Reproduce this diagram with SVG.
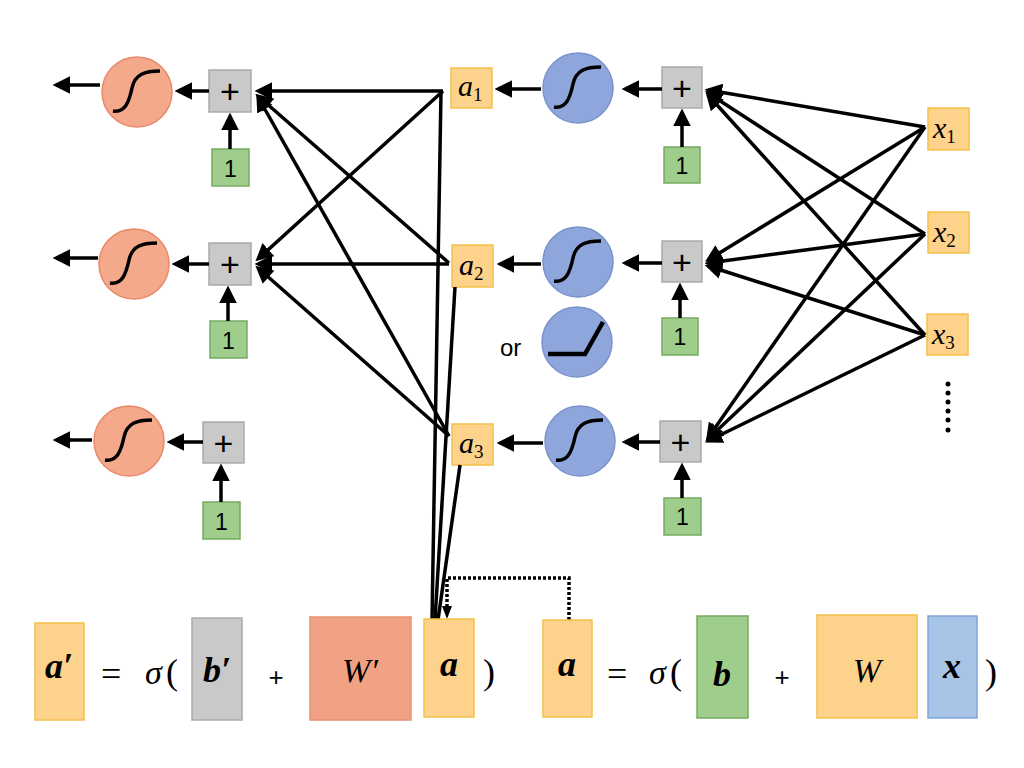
<svg xmlns="http://www.w3.org/2000/svg" xmlns:xlink="http://www.w3.org/1999/xlink" width="1024" height="768" viewBox="0 0 1024 768">
<style>
.red{fill:#f4a98b;stroke:#e8896a;stroke-width:1.5}
.blue{fill:#8fa6dc;stroke:#7a93cc;stroke-width:1.5}
.gray{fill:#c9c9c9;stroke:#aaa;stroke-width:1.5}
.green{fill:#9fce8c;stroke:#76ab62;stroke-width:1.5}
.org{fill:#fdd28a;stroke:#f5c04a;stroke-width:1.5}
.bl{fill:#a7c3e6;stroke:#7fa6d6;stroke-width:1.5}
.rd{fill:#f2a284;stroke:#e59373;stroke-width:1.5}
.ln{stroke:#000;stroke-width:3.5;fill:none}
.ar{stroke:#000;stroke-width:3.5;fill:none;marker-end:url(#ah)}
.t{font-family:"Liberation Sans",sans-serif;fill:#000}
.m{font-family:"Liberation Serif",serif;font-style:italic;fill:#000}
.u{font-family:"Liberation Serif",serif;font-style:normal;fill:#000}
.mb{font-family:"Liberation Serif",serif;font-style:italic;font-weight:bold;fill:#000}
</style>
<defs>
<marker id="ah" markerWidth="5" markerHeight="5" refX="4" refY="2.5" orient="auto" markerUnits="strokeWidth"><path d="M0,0 L5,2.5 L0,5 z" fill="#000"/></marker>
<path id="sig" d="M-24,19 C-12,21 -8,10 -5,-4 C-2,-18 8,-21 23,-21" fill="none" stroke="#000" stroke-width="3.5"/>
</defs>
<g id="out-red">
<circle class="red" cx="137" cy="92" r="35"/><use xlink:href="#sig" x="137" y="92"/>
<circle class="red" cx="134" cy="264" r="35"/><use xlink:href="#sig" x="134" y="264"/>
<circle class="red" cx="129" cy="441" r="35"/><use xlink:href="#sig" x="129" y="441"/>
</g>
<g id="plus-left">
<rect class="gray" x="209" y="70" width="42" height="42"/><text class="t" x="230" y="103" font-size="34" text-anchor="middle">+</text>
<rect class="gray" x="209" y="243" width="42" height="42"/><text class="t" x="230" y="276" font-size="34" text-anchor="middle">+</text>
<rect class="gray" x="203" y="422" width="41" height="41"/><text class="t" x="223.5" y="455" font-size="34" text-anchor="middle">+</text>
<rect class="green" x="212" y="149" width="37" height="37"/><text class="t" x="230.5" y="177" font-size="23" text-anchor="middle">1</text>
<rect class="green" x="210" y="321" width="37" height="37"/><text class="t" x="228.5" y="349" font-size="23" text-anchor="middle">1</text>
<rect class="green" x="203" y="502" width="37" height="37"/><text class="t" x="221.5" y="530" font-size="23" text-anchor="middle">1</text>
</g>
<g id="a-nodes">
<rect class="org" x="451" y="68" width="41" height="40"/><text class="m" x="458" y="96" font-size="30">a<tspan class="u" font-size="19" dy="5">1</tspan></text>
<rect class="org" x="452" y="245" width="41" height="42"/><text class="m" x="459" y="275" font-size="30">a<tspan class="u" font-size="19" dy="5">2</tspan></text>
<rect class="org" x="452" y="424" width="41" height="41"/><text class="m" x="459" y="453" font-size="30">a<tspan class="u" font-size="19" dy="5">3</tspan></text>
</g>
<g id="hidden-blue">
<circle class="blue" cx="578" cy="88" r="35"/><use xlink:href="#sig" x="578" y="88"/>
<circle class="blue" cx="578" cy="262" r="35"/><use xlink:href="#sig" x="578" y="262"/>
<circle class="blue" cx="577" cy="342" r="35"/><path d="M548,354 L585,354 L603,322" fill="none" stroke="#000" stroke-width="4.5"/>
<text class="t" x="500" y="356" font-size="24">or</text>
<circle class="blue" cx="580" cy="441" r="35"/><use xlink:href="#sig" x="580" y="441"/>
</g>
<g id="plus-right">
<rect class="gray" x="662" y="67" width="40" height="41"/><text class="t" x="682" y="100" font-size="34" text-anchor="middle">+</text>
<rect class="gray" x="662" y="241" width="40" height="41"/><text class="t" x="682" y="274" font-size="34" text-anchor="middle">+</text>
<rect class="gray" x="660" y="421" width="41" height="41"/><text class="t" x="680.5" y="454" font-size="34" text-anchor="middle">+</text>
<rect class="green" x="664" y="147" width="36" height="36"/><text class="t" x="682" y="174" font-size="23" text-anchor="middle">1</text>
<rect class="green" x="662" y="318" width="36" height="37"/><text class="t" x="680" y="345" font-size="23" text-anchor="middle">1</text>
<rect class="green" x="664" y="498" width="37" height="37"/><text class="t" x="682.5" y="525" font-size="23" text-anchor="middle">1</text>
</g>
<g id="x-nodes">
<rect class="org" x="928" y="108" width="41" height="42"/><text class="m" x="933" y="138" font-size="30">x<tspan class="u" font-size="19" dy="5">1</tspan></text>
<rect class="org" x="928" y="212" width="41" height="41"/><text class="m" x="933" y="242" font-size="30">x<tspan class="u" font-size="19" dy="5">2</tspan></text>
<rect class="org" x="927" y="314" width="41" height="41"/><text class="m" x="932" y="344" font-size="30">x<tspan class="u" font-size="19" dy="5">3</tspan></text>
<g fill="#000"><circle cx="948" cy="384" r="2.5"/><circle cx="948" cy="393" r="2.5"/><circle cx="948" cy="402" r="2.5"/><circle cx="948" cy="411" r="2.5"/><circle cx="948" cy="420" r="2.5"/><circle cx="948" cy="430" r="2.5"/></g>
</g>
<g id="connectors">
<path class="ar" d="M100,85 H56"/><path class="ar" d="M98,258 H56"/><path class="ar" d="M92,440 H56"/>
<path class="ar" d="M209,91 H178"/><path class="ar" d="M209,264 H175"/><path class="ar" d="M203,442 H170"/>
<path class="ar" d="M230,149 V116"/><path class="ar" d="M228,321 V289"/><path class="ar" d="M221,502 V467"/>
<path class="ar" d="M541,89 H498"/><path class="ar" d="M541,264 H500"/><path class="ar" d="M543,443 H500"/>
<path class="ar" d="M662,89 H625"/><path class="ar" d="M662,263 H625"/><path class="ar" d="M660,442 H625"/>
<path class="ar" d="M682,147 V112"/><path class="ar" d="M680,318 V286"/><path class="ar" d="M682,498 V466"/>
<path class="ar" d="M443,91 H258"/><path class="ar" d="M443,91 L258,259"/>
<path class="ar" d="M449,263 L258,96"/><path class="ar" d="M449,264 H258"/>
<path class="ar" d="M449,436 L258,97"/><path class="ar" d="M449,436 L258,268"/>
<path class="ln" d="M441,92 L432,620"/><path class="ln" d="M455,287 L435,620"/><path class="ln" d="M460,465 L438,620"/>
<path class="ar" d="M925,127 L708,90"/><path class="ar" d="M925,127 L708,260"/><path class="ar" d="M925,127 L708,438"/>
<path class="ar" d="M925,234 L708,93"/><path class="ar" d="M925,234 L708,263"/><path class="ar" d="M925,234 L708,439"/>
<path class="ar" d="M925,335 L708,95"/><path class="ar" d="M925,335 L708,266"/><path class="ar" d="M925,335 L708,441"/>
<path d="M569,620 V578 H447 V608" fill="none" stroke="#000" stroke-width="3.5" stroke-dasharray="3,2"/>
<path d="M442,606 L447,619 L452,606 z" fill="#000"/>
</g>
<g id="equation">
<rect class="org" x="35" y="623" width="49" height="97"/><text class="mb" x="59" y="678" font-size="36" text-anchor="middle">a′</text>
<text class="u" x="101" y="686" font-size="36">=</text><text class="m" x="145" y="684" font-size="34">σ</text><text class="u" x="166" y="684" font-size="36">(</text>
<rect class="gray" x="192" y="618" width="50" height="102"/><text class="mb" x="217" y="682" font-size="36" text-anchor="middle">b′</text>
<text class="t" x="276" y="686" font-size="26" text-anchor="middle">+</text>
<rect class="rd" x="310" y="617" width="101" height="103"/><text class="m" x="360" y="682" font-size="34" text-anchor="middle">W′</text>
<rect class="org" x="424" y="619" width="50" height="98"/><text class="mb" x="449" y="676" font-size="36" text-anchor="middle">a</text>
<text class="u" x="483" y="684" font-size="36">)</text>
<rect class="org" x="543" y="620" width="49" height="97"/><text class="mb" x="567" y="676" font-size="36" text-anchor="middle">a</text>
<text class="u" x="607" y="686" font-size="36">=</text><text class="m" x="649" y="684" font-size="34">σ</text><text class="u" x="670" y="684" font-size="36">(</text>
<rect class="green" x="697" y="616" width="51" height="102"/><text class="mb" x="722" y="686" font-size="36" text-anchor="middle">b</text>
<text class="t" x="782" y="686" font-size="26" text-anchor="middle">+</text>
<rect class="org" x="817" y="615" width="100" height="103"/><text class="m" x="867" y="682" font-size="34" text-anchor="middle">W</text>
<rect class="bl" x="928" y="616" width="49" height="102"/><text class="mb" x="952" y="678" font-size="36" text-anchor="middle">x</text>
<text class="u" x="985" y="684" font-size="36">)</text>
</g>
</svg>
